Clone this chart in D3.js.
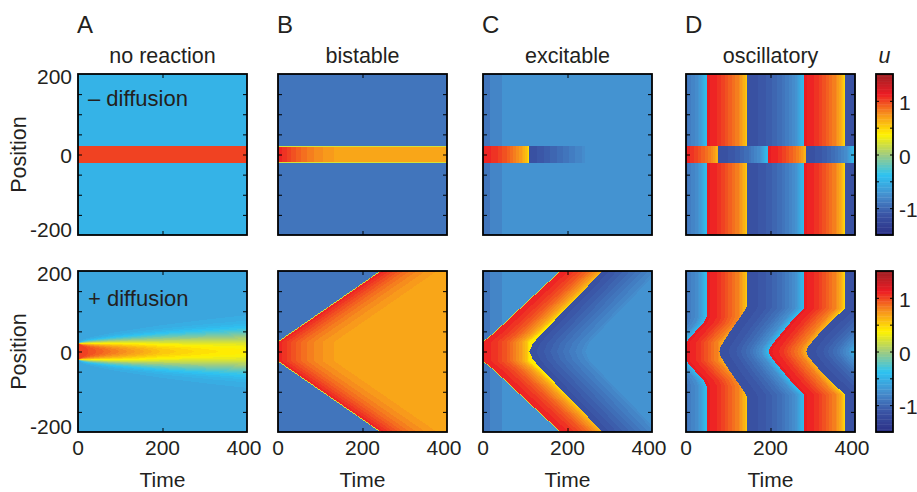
<!DOCTYPE html>
<html>
<head>
<meta charset="utf-8">
<script src="https://cdn.jsdelivr.net/npm/d3@7"></script>
<style>
  body { margin: 0; background: #fff; }
  svg { display: block; }
  text { font-family: "Liberation Sans", Arial, Helvetica, sans-serif; fill: #231f20; }
</style>
</head>
<body>
<svg id="fig" width="917" height="492"></svg>
<script>
// ---- axes / labels ----
const timeDomain = [0, 400]
const posDomain = [-200, 200]
const timeTicks = [0, 200, 400]
const posTicks = [-200, 0, 200]
const posMinorTicks = [-150, -100, -50, 0, 50, 100, 150]
const uDomain = [-1.5, 1.5]
const uTicks = [-1, 0, 1]
const uMinorTicks = [-1, -0.5, 0, 0.5, 1]
const panelLetters = ["A", "B", "C", "D"]
const panelTitles = ["no reaction", "bistable", "excitable", "oscillatory"]
const rowLabels = ["\u2013 diffusion", "+ diffusion"]

// ---- colour map (jet, 64 levels) ----
const cmapU = [-1.5, -1.125, -0.75, -0.375, 0, 0.375, 0.75, 1.125, 1.5]
const cmapColors = ["#2b3086", "#3a53a4", "#4690cf", "#2dc3f2", "#a0cc80", "#fff200", "#f7941d", "#ed1c24", "#9e1f23"]
const cmapLevels = 64

// ---- values ----
const stripeHalf = 20.7

// A: no reaction
const A_rest = -0.48
const A_stripe = 1.03
const A_diffRest = -0.586
const A_diffTime = [0, 10, 25, 50, 80, 120, 200, 300, 400]
const A_diffHalf = [20.7, 21, 22, 23, 24.5, 26, 29, 32, 35]
const A_diffSpread = [0.5, 5, 8, 11, 14.5, 18, 25, 32, 38]
const A_diffPeak = [1.03, 1.02, 0.98, 0.92, 0.84, 0.74, 0.55, 0.44, 0.38]

// B: bistable
const B_rest = -0.9
const B_edge = 0.2
const B_relaxTime = [0, 10, 30, 60, 95, 135, 400]
const B_relaxU = [1.13, 1.08, 0.99, 0.87, 0.77, 0.70, 0.70]
const B_frontTime = [0, 243]
const B_frontPos = [24, 200]

// C: excitable
const C_restSteps = [17, 44]
const C_restU = [-0.90, -0.82, -0.705]
const C_excTime = [0, 30, 60, 90, 104, 111]
const C_excU = [1.13, 1.05, 0.92, 0.72, 0.55, 0.38]
const C_refrTime = [0, 30, 60, 100, 132]
const C_refrU = [-1.17, -1.09, -1.0, -0.87, -0.77]
const C_stripeBack = 110
const C_leadPos = [24, 45, 119, 200]
const C_leadTime = [0, 25, 100, 183]
const C_backPos = [0, 20, 41, 200]
const C_backTime = [110, 118, 136, 283]

// D: oscillatory
const D_redTime = [0, 30, 75, 90, 97]
const D_redU = [1.15, 1.06, 0.8, 0.62, 0.45]
const D_blueProgress = [0, 0.3, 0.6, 0.85, 1]
const D_blueU = [-1.17, -1.1, -0.95, -0.75, -0.42]
const D_bulkSwitch = [-86, 49, 144, 279, 376, 512]
const D_stripeSwitch = [-86, -15, 76, 193, 283, 397, 490]
const D_sw1Pos = [0, 23, 53, 70, 86],          D_sw1Time = [0, 0, 25, 41, 49]
const D_sw2Pos = [0, 12, 49, 91, 111],         D_sw2Time = [79, 82, 104, 132, 144]
const D_sw3Pos = [0, 10, 33, 62, 91, 107],     D_sw3Time = [196, 199, 216, 239, 263, 279]
const D_sw4Pos = [0, 10, 33, 62, 91, 107],     D_sw4Time = [285, 288, 305, 332, 360, 376]
const D_sw5Pos = [0, 10, 33, 62, 91, 107],     D_sw5Time = [402, 405, 425, 455, 485, 512]

// ---- layout ----
const colLeft = [78, 278, 483, 686]
const rowTop = [74, 271]
const panelW = 169, panelH = 161
const cbLeft = 876, cbW = 17

const svg = d3.select("#fig")

// colour scale
const cmapLin = d3.scaleLinear().domain(cmapU).range(cmapColors)
const palette = d3.range(cmapLevels).map(k => cmapLin(uDomain[0] + (k + 0.5) * (uDomain[1] - uDomain[0]) / cmapLevels))
const colour = d3.scaleQuantize().domain(uDomain).range(palette)
const paletteRgb = new Map(palette.map(c => [c, d3.rgb(c)]))

// helpers
const lin = (d, r) => d3.scaleLinear().domain(d).range(r).clamp(true)
function erf(x) {
    const s = Math.sign(x); x = Math.abs(x)
    const t = 1 / (1 + 0.3275911 * x)
    const y = 1 - (((((1.061405429 * t - 1.453152027) * t) + 1.421413741) * t - 0.284496736) * t + 0.254829592) * t * Math.exp(-x * x)
    return s * y
}

// A
const aHalf = lin(A_diffTime, A_diffHalf)
const aSpread = lin(A_diffTime, A_diffSpread)
const aPeak = lin(A_diffTime, A_diffPeak)
function fieldA0(t, x) { return Math.abs(x) <= stripeHalf ? A_stripe : A_rest }
function fieldA1(t, x) {
    const s = aSpread(t), a = aHalf(t)
    const f = 0.5 * (erf((a - x) / s) + erf((a + x) / s)) / erf(a / s)
    return A_diffRest + (aPeak(t) - A_diffRest) * f
}

// B
const bRelax = lin(B_relaxTime, B_relaxU)
const bFrontT = d3.scaleLinear().domain(B_frontPos).range(B_frontTime)
const bFrontX = d3.scaleLinear().domain(B_frontTime).range(B_frontPos)
function fieldB0(t, x) {
    const d = Math.abs(x) - stripeHalf
    if (Math.abs(d) < 1.2) return B_edge
    return d < 0 ? bRelax(t) : B_rest
}
function fieldB1(t, x) {
    const ax = Math.abs(x)
    if (Math.abs(ax - bFrontX(t)) < 1.2) return B_edge
    const tf = Math.max(0, bFrontT(ax))
    return t < tf ? B_rest : bRelax(t - tf)
}

// C
const cRest = d3.scaleThreshold().domain(C_restSteps).range(C_restU)
const cExc = lin(C_excTime, C_excU)
const cRefr = lin(C_refrTime, C_refrU)
const cLeadT = d3.scaleLinear().domain(C_leadPos).range(C_leadTime).clamp(true)
const cBackT = d3.scaleLinear().domain(C_backPos).range(C_backTime).clamp(true)
const cRefrEnd = C_refrTime[C_refrTime.length - 1]
function cAfter(t, tb) {
    const tau = t - tb
    return tau < cRefrEnd ? cRefr(tau) : cRest(t)
}
function fieldC0(t, x) {
    if (Math.abs(x) > stripeHalf) return cRest(t)
    if (t < C_stripeBack) return cExc(t)
    return cAfter(t, C_stripeBack)
}
function fieldC1(t, x) {
    const ax = Math.abs(x)
    const tl = ax <= C_leadPos[0] ? 0 : cLeadT(ax)
    const tb = cBackT(ax)
    if (ax > C_leadPos[0] && Math.abs(t - tl) < 1.2) return B_edge
    if (t < tl) return cRest(t)
    if (t < tb) return cExc(t - tl)
    return cAfter(t, tb)
}

// D
const dRed = lin(D_redTime, D_redU)
const dBlue = lin(D_blueProgress, D_blueU)
function phaseValue(t, sw) {
    let k = 0
    while (k < sw.length - 2 && t >= sw[k + 1]) k++
    if (k % 2 === 0) return dBlue((t - sw[k]) / (sw[k + 1] - sw[k]))
    return dRed(t - sw[k])
}
const dSw = [
    [D_sw1Pos, D_sw1Time], [D_sw2Pos, D_sw2Time], [D_sw3Pos, D_sw3Time],
    [D_sw4Pos, D_sw4Time], [D_sw5Pos, D_sw5Time]
].map(([p, tm]) => d3.scaleLinear().domain(p).range(tm).clamp(true))
function fieldD0(t, x) {
    return phaseValue(t, Math.abs(x) <= stripeHalf ? D_stripeSwitch : D_bulkSwitch)
}
function fieldD1(t, x) {
    const ax = Math.abs(x)
    return phaseValue(t, [D_bulkSwitch[0]].concat(dSw.map(s => s(ax))))
}

const fields = [[fieldA0, fieldB0, fieldC0, fieldD0], [fieldA1, fieldB1, fieldC1, fieldD1]]

// raster one panel through its scales
function renderField(field, xs, ys) {
    const x0 = xs.range()[0], y0 = ys.range()[1]
    const canvas = document.createElement("canvas")
    canvas.width = panelW; canvas.height = panelH
    const ctx = canvas.getContext("2d")
    const img = ctx.createImageData(panelW, panelH)
    for (let j = 0; j < panelH; j++) {
        const p = ys.invert(y0 + j + 0.5)
        for (let i = 0; i < panelW; i++) {
            const t = xs.invert(x0 + i + 0.5)
            const c = paletteRgb.get(colour(field(t, p)))
            const o = (j * panelW + i) * 4
            img.data[o] = c.r; img.data[o + 1] = c.g; img.data[o + 2] = c.b; img.data[o + 3] = 255
        }
    }
    ctx.putImageData(img, 0, 0)
    return canvas.toDataURL()
}

rowTop.forEach((top, r) => {
    const ys = d3.scaleLinear().domain(posDomain).range([top + panelH, top])

    colLeft.forEach((left, c) => {
        const xs = d3.scaleLinear().domain(timeDomain).range([left, left + panelW])
        const g = svg.append("g")

        g.append("image")
            .attr("x", left).attr("y", top)
            .attr("width", panelW).attr("height", panelH)
            .attr("preserveAspectRatio", "none")
            .style("image-rendering", "pixelated")
            .attr("href", renderField(fields[r][c], xs, ys))

        // inward ticks on all four sides
        const tickG = g.append("g").attr("class", "ticks")
        tickG.append("g").attr("transform", `translate(${left},0)`)
            .call(d3.axisLeft(ys).tickValues(posMinorTicks).tickSize(-4).tickFormat(""))
        tickG.append("g").attr("transform", `translate(${left + panelW},0)`)
            .call(d3.axisRight(ys).tickValues(posMinorTicks).tickSize(-4).tickFormat(""))
        tickG.append("g").attr("transform", `translate(0,${top})`)
            .call(d3.axisTop(xs).tickValues([timeTicks[1]]).tickSize(-4).tickFormat(""))
        tickG.append("g").attr("transform", `translate(0,${top + panelH})`)
            .call(d3.axisBottom(xs).tickValues([timeTicks[1]]).tickSize(-4).tickFormat(""))
        tickG.selectAll(".domain").remove()
        tickG.selectAll("line").attr("stroke", "#000").attr("stroke-width", 1)

        g.append("rect")
            .attr("x", left).attr("y", top).attr("width", panelW).attr("height", panelH)
            .attr("fill", "none").attr("stroke", "#000").attr("stroke-width", 1.8)

        if (r === 0) {
            svg.append("text").attr("x", left - 1).attr("y", 33)
                .style("font-size", "24px").text(panelLetters[c])
            svg.append("text").attr("x", left + panelW / 2).attr("y", 63)
                .attr("text-anchor", "middle").style("font-size", "21.5px").text(panelTitles[c])
        }
        if (r === 1) {
            timeTicks.forEach(v => {
                svg.append("text").attr("x", xs(v) + (v === 400 ? -3 : 0)).attr("y", 455)
                    .attr("text-anchor", "middle").style("font-size", "21px").text(v)
            })
            svg.append("text").attr("x", left + panelW / 2).attr("y", 487)
                .attr("text-anchor", "middle").style("font-size", "21px").text("Time")
        }
        if (c === 0) {
            const dy = { "200": 10, "0": 8, "-200": 1.5 }
            posTicks.forEach(v => {
                svg.append("text").attr("x", 72).attr("y", ys(v) + dy[v])
                    .attr("text-anchor", "end").style("font-size", "21px").text(v)
            })
            svg.append("text")
                .attr("transform", `translate(26,${top + panelH / 2}) rotate(-90)`)
                .attr("text-anchor", "middle").style("font-size", "21.5px").text("Position")
            svg.append("text").attr("x", 88).attr("y", r === 0 ? 106 : 306)
                .style("font-size", "22px").text(rowLabels[r])
        }
    })

    // colour bar
    const cb = d3.scaleLinear().domain(uDomain).range([top + panelH, top])
    const step = (uDomain[1] - uDomain[0]) / cmapLevels
    const cbG = svg.append("g")
    cbG.selectAll("rect.level").data(palette).join("rect")
        .attr("class", "level")
        .attr("x", cbLeft).attr("width", cbW)
        .attr("y", (d, k) => cb(uDomain[0] + (k + 1) * step))
        .attr("height", (d, k) => cb(uDomain[0] + k * step) - cb(uDomain[0] + (k + 1) * step) + 0.4)
        .attr("fill", d => d)
    const cbTicks = cbG.append("g")
    cbTicks.append("g").attr("transform", `translate(${cbLeft},0)`)
        .call(d3.axisLeft(cb).tickValues(uMinorTicks).tickSize(-3).tickFormat(""))
    cbTicks.append("g").attr("transform", `translate(${cbLeft + cbW},0)`)
        .call(d3.axisRight(cb).tickValues(uMinorTicks).tickSize(-3).tickFormat(""))
    cbTicks.selectAll(".domain").remove()
    cbTicks.selectAll("line").attr("stroke", "#000").attr("stroke-width", 1)
    cbG.append("rect").attr("x", cbLeft).attr("y", top).attr("width", cbW).attr("height", panelH)
        .attr("fill", "none").attr("stroke", "#000").attr("stroke-width", 1.8)
    uTicks.forEach(v => {
        cbG.append("text").attr("x", 899).attr("y", cb(v) + 9)
            .style("font-size", "21px").text(v)
    })
    if (r === 0) {
        svg.append("text").attr("x", cbLeft + cbW / 2).attr("y", 63)
            .attr("text-anchor", "middle").style("font-size", "21.5px").style("font-style", "italic").text("u")
    }
})
</script>
</body>
</html>
